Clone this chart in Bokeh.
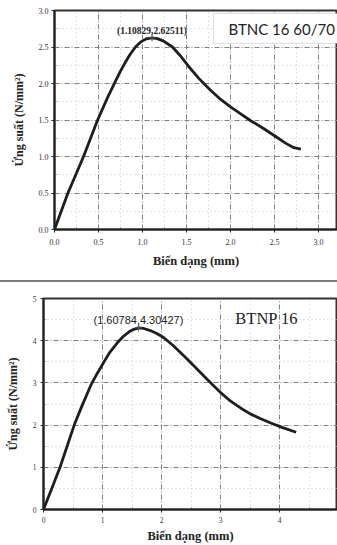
from bokeh.plotting import figure
from bokeh.layouts import column, row
from bokeh.models import Range1d, FixedTicker, NumeralTickFormatter, Label, BoxAnnotation, Div
from bokeh.embed import file_html
from bokeh.resources import INLINE

# ---- data: chart 1 (BTNC 16 60/70) ----
c1_x = [0, 0.153, 0.33, 0.49, 0.60, 0.70, 0.75, 0.80, 0.86, 0.92, 0.98, 1.04, 1.10829, 1.17, 1.24,
        1.34, 1.43, 1.52, 1.64, 1.77, 1.88, 2.0, 2.12, 2.23, 2.38, 2.53, 2.63, 2.72, 2.8]
c1_y = [0, 0.5, 1.0, 1.5, 1.80, 2.05, 2.17, 2.28, 2.40, 2.50, 2.57, 2.61, 2.62511, 2.615, 2.58,
        2.50, 2.38, 2.24, 2.07, 1.91, 1.79, 1.68, 1.58, 1.49, 1.38, 1.26, 1.18, 1.12, 1.10]
c1_peak = (1.10829, 2.62511)
c1_name = "BTNC 16 60/70"
c1_xticks = [0.0, 0.5, 1.0, 1.5, 2.0, 2.5, 3.0]
c1_yticks = [0.0, 0.5, 1.0, 1.5, 2.0, 2.5, 3.0]
c1_xminor = [0.25, 0.75, 1.25, 1.75, 2.25, 2.75, 3.25]
c1_yminor = [0.25, 0.75, 1.25, 1.75, 2.25, 2.75]

# ---- data: chart 2 (BTNP 16) ----
c2_x = [0, 0.14, 0.28, 0.40, 0.52, 0.65, 0.80, 0.90, 1.0, 1.12, 1.25, 1.35, 1.45, 1.53, 1.60784,
        1.70, 1.81, 1.92, 2.04, 2.20, 2.38, 2.55, 2.72, 2.86, 3.0, 3.14, 3.28, 3.40, 3.51, 3.68,
        3.85, 4.05, 4.28]
c2_y = [0, 0.5, 1.0, 1.5, 2.0, 2.45, 2.94, 3.20, 3.44, 3.72, 3.95, 4.10, 4.21, 4.27, 4.30427,
        4.29, 4.24, 4.17, 4.07, 3.88, 3.64, 3.40, 3.16, 2.96, 2.77, 2.60, 2.46, 2.35, 2.26, 2.15,
        2.05, 1.94, 1.83]
c2_peak = (1.60784, 4.30427)
c2_name = "BTNP 16"
c2_xticks = [0, 1, 2, 3, 4, 5]
c2_yticks = [0, 1, 2, 3, 4, 5]
c2_xminor = [0.5, 1.5, 2.5, 3.5, 4.5]
c2_yminor = [0.5, 1.5, 2.5, 3.5, 4.5]

x_label = "Biến dạng (mm)"
y_label = "Ứng suất (N/mm²)"

SERIF = "Liberation Serif"


def style(p, xt, yt, xm, ym, fmt, tick_size):
    for ax in (p.xaxis[0], p.yaxis[0]):
        ax.axis_line_width = 2
        ax.axis_line_color = "#222222"
        ax.major_tick_line_color = "#222222"
        ax.minor_tick_line_color = "#444444"
        ax.major_label_text_font = SERIF
        ax.major_label_text_font_size = tick_size
        ax.major_label_text_color = "#333333"
        ax.axis_label_text_font = SERIF
        ax.axis_label_text_font_style = "bold"
        ax.axis_label_text_color = "#222222"
        ax.major_tick_in = 0
        ax.major_tick_out = 3
        ax.minor_tick_in = 2
        ax.minor_tick_out = 0
    p.xaxis[0].ticker = FixedTicker(ticks=xt, minor_ticks=xm)
    p.yaxis[0].ticker = FixedTicker(ticks=yt, minor_ticks=ym)
    if fmt:
        p.xaxis[0].formatter = NumeralTickFormatter(format=fmt)
        p.yaxis[0].formatter = NumeralTickFormatter(format=fmt)
    p.xaxis.axis_label = x_label
    p.yaxis.axis_label = y_label
    for g in (p.xgrid[0], p.ygrid[0]):
        g.grid_line_color = "#808080"
        g.grid_line_width = 1
        g.grid_line_dash = "5 2 1 2"
        g.minor_grid_line_color = "#c8c8c8"
        g.minor_grid_line_width = 1
        g.minor_grid_line_dash = "1 3"
    p.outline_line_color = "#333333"
    p.outline_line_width = 2
    p.background_fill_color = "white"
    p.border_fill_color = "white"


# ---------- chart 1 ----------
p1 = figure(width=337, height=280, output_backend="svg", toolbar_location=None,
            x_range=Range1d(0, 3.216), y_range=Range1d(0, 3.0),
            min_border_left=54, min_border_right=0, min_border_top=10, min_border_bottom=51)
style(p1, c1_xticks, c1_yticks, c1_xminor, c1_yminor, "0.0", "8px")
p1.xaxis.axis_label_text_font_size = "12.5px"
p1.yaxis.axis_label_text_font_size = "12px"
p1.xaxis.major_label_standoff = 6
p1.yaxis.major_label_standoff = 3
p1.xaxis.axis_label_standoff = 6
p1.yaxis.axis_label_standoff = 10

p1.line(c1_x, c1_y, line_color="#1e1e1e", line_width=2.8, line_join="round")
p1.scatter([c1_peak[0]], [c1_peak[1]], marker="cross", size=7, line_color="#555555", line_width=1)
p1.add_layout(Label(x=c1_peak[0], y=c1_peak[1], text="(%.5f,%.5f)" % c1_peak,
                    text_align="center", text_baseline="bottom", y_offset=2,
                    text_font=SERIF, text_font_style="bold", text_font_size="9.5px",
                    text_color="#222222"))
p1.add_layout(BoxAnnotation(left=1.807, top=2.96, bottom=2.55, fill_color="white", fill_alpha=1,
                            line_color="#9a9a9a", line_width=1.2))
p1.add_layout(Label(x=1.977, y=2.745, text=c1_name, text_align="left", text_baseline="middle",
                    text_font="Lato", text_font_size="15px", text_color="#222222"))

# ---------- separator ----------
sep = Div(text="", width=337, height=2, margin=0, styles={"background-color": "#7a7a7a"})

# ---------- chart 2 ----------
p2 = figure(width=337, height=263, output_backend="svg", toolbar_location=None,
            x_range=Range1d(0, 4.98), y_range=Range1d(0, 5.0),
            min_border_left=43, min_border_right=0, min_border_top=16, min_border_bottom=32)
style(p2, c2_xticks, c2_yticks, c2_xminor, c2_yminor, None, "7.5px")
p2.xaxis.axis_label_text_font_size = "12.5px"
p2.yaxis.axis_label_text_font_size = "12px"
p2.xaxis.major_label_standoff = 4
p2.yaxis.major_label_standoff = 4
p2.xaxis.axis_label_standoff = 3
p2.yaxis.axis_label_standoff = 10

p2.line(c2_x, c2_y, line_color="#1e1e1e", line_width=2.8, line_join="round")
p2.scatter([c2_peak[0]], [c2_peak[1]], marker="cross", size=7, line_color="#555555", line_width=1)
p2.add_layout(Label(x=c2_peak[0], y=c2_peak[1], text="(%.5f,%.5f)" % c2_peak,
                    text_align="center", text_baseline="bottom", y_offset=2,
                    text_font="Liberation Sans", text_font_size="11px", text_color="#222222"))
p2.add_layout(Label(x=3.25, y=4.53, text=c2_name, text_align="left", text_baseline="middle",
                    text_font=SERIF, text_font_size="16.5px", text_color="#222222"))

layout = column(row(p1), sep, row(p2), spacing=0)
open("out.html", "w").write(file_html(layout, INLINE))
